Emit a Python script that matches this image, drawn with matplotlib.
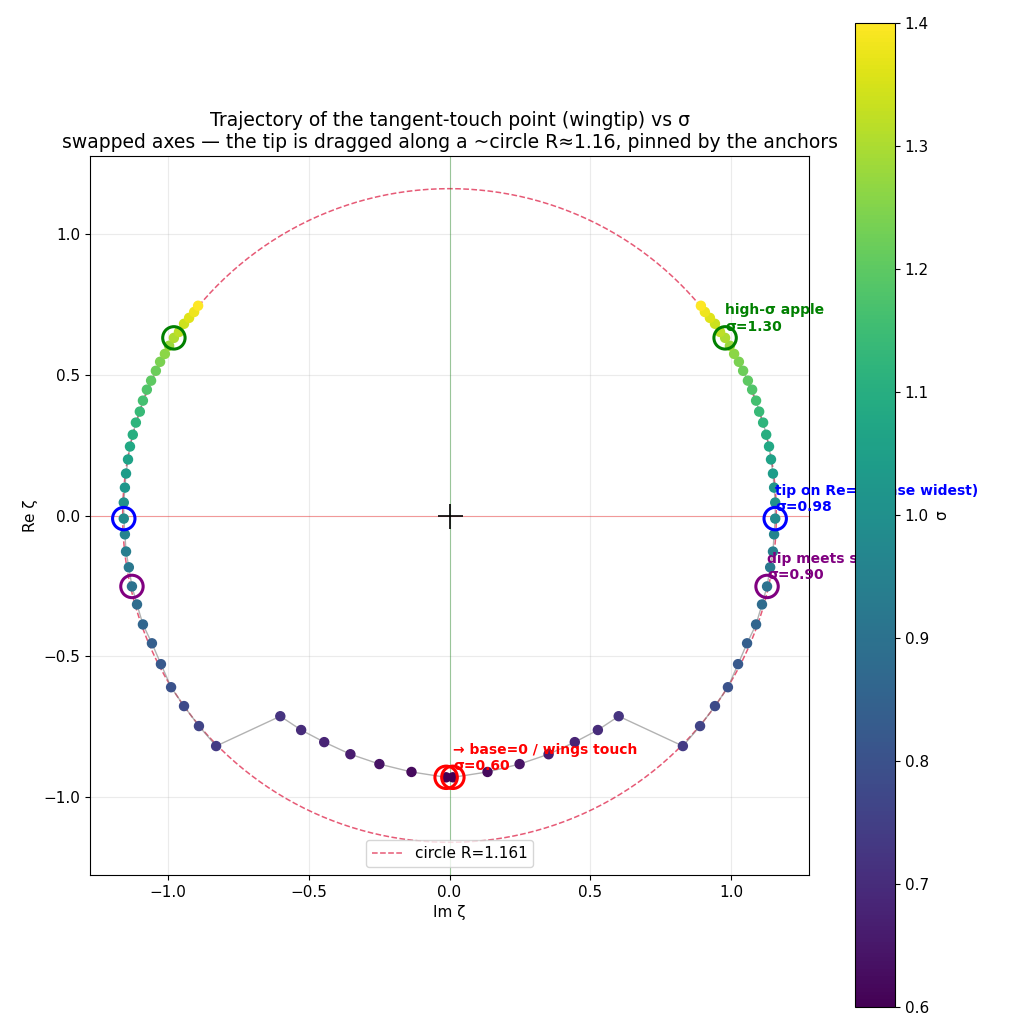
import numpy as np
import matplotlib.pyplot as plt

# right-branch trajectory (Im, Re) for each sigma; left branch is its mirror
sigma = [0.60, 0.62, 0.64, 0.66, 0.68, 0.70, 0.72, 0.74, 0.76, 0.78, 0.80,
         0.82, 0.84, 0.86, 0.88, 0.90, 0.92, 0.94, 0.96, 0.98, 1.00, 1.02,
         1.04, 1.06, 1.08, 1.10, 1.12, 1.14, 1.16, 1.18, 1.20, 1.22, 1.24,
         1.26, 1.28, 1.30, 1.32, 1.34, 1.36, 1.38, 1.40]
im_r = [0.012, 0.135, 0.249, 0.352, 0.445, 0.527, 0.601, 0.829, 0.890, 0.943,
        0.989, 1.025, 1.057, 1.089, 1.110, 1.128, 1.139, 1.149, 1.153, 1.157,
        1.157, 1.153, 1.149, 1.142, 1.135, 1.125, 1.114, 1.100, 1.089, 1.075,
        1.060, 1.043, 1.028, 1.011, 0.996, 0.979, 0.961, 0.943, 0.925, 0.907,
        0.893]
re_r = [-0.930, -0.911, -0.883, -0.848, -0.805, -0.762, -0.713, -0.819, -0.748,
        -0.677, -0.610, -0.528, -0.454, -0.387, -0.316, -0.252, -0.184, -0.128,
        -0.067, -0.011, 0.046, 0.099, 0.149, 0.199, 0.245, 0.287, 0.330, 0.369,
        0.408, 0.447, 0.479, 0.514, 0.546, 0.574, 0.603, 0.631, 0.652, 0.681,
        0.702, 0.723, 0.745]
R = 1.161

marks = [(0.60, "red", "→ base=0 / wings touch"),
         (0.90, "purple", "dip meets spine"),
         (0.98, "blue", "tip on Re=0 (base widest)"),
         (1.30, "green", "high-σ apple")]

im_r = np.array(im_r)
re_r = np.array(re_r)
sig = np.array(sigma)

fig = plt.figure(figsize=(10.35, 10.35), dpi=100)
ax = fig.add_axes([90/1035, 160/1035, 719/1035, 719/1035])
cax = fig.add_axes([855/1035, 28/1035, 40/1035, 984/1035])

th = np.linspace(0, 2*np.pi, 400)
ax.plot(R*np.cos(th), R*np.sin(th), "--", color="crimson", alpha=0.7, lw=1.1,
        label=f"circle R={R:.3f}")
ax.axhline(0, color="red", lw=0.8, alpha=0.35)
ax.axvline(0, color="green", lw=0.8, alpha=0.35)

for s in (1, -1):
    ax.plot(s*im_r, re_r, "-", color="gray", lw=1, alpha=0.6, zorder=2)
    sc = ax.scatter(s*im_r, re_r, c=sig, cmap="viridis", vmin=0.6, vmax=1.4,
                    s=42, zorder=3)

for sv, col, txt in marks:
    i = int(np.argmin(abs(sig - sv)))
    for s in (1, -1):
        ax.scatter(s*im_r[i], re_r[i], s=260, facecolors="none",
                   edgecolors=col, linewidths=2.2, zorder=4)
    ax.annotate(f"{txt}\nσ={sv:.2f}", (im_r[i], re_r[i]), xytext=(0, 3),
                textcoords="offset points", color=col, fontsize=10,
                fontweight="bold", ha="left", va="bottom", zorder=5)

ax.plot(0, 0, "k+", ms=18, mew=1.2)
ax.set_xlim(-1.277, 1.277)
ax.set_ylim(-1.277, 1.277)
ax.set_aspect("equal")
ax.grid(alpha=0.25)
ax.set_xlabel("Im ζ", fontsize=11)
ax.set_ylabel("Re ζ", fontsize=11)
ax.tick_params(labelsize=11)
ax.set_title("Trajectory of the tangent-touch point (wingtip) vs σ\n"
             "swapped axes — the tip is dragged along a ~circle R≈1.16, "
             "pinned by the anchors", fontsize=13.5)
ax.legend(loc="lower center", fontsize=11)
cb = fig.colorbar(sc, cax=cax)
cb.ax.tick_params(labelsize=11)
cb.set_label("σ", fontsize=11)

fig.savefig("out.png", dpi=100)
